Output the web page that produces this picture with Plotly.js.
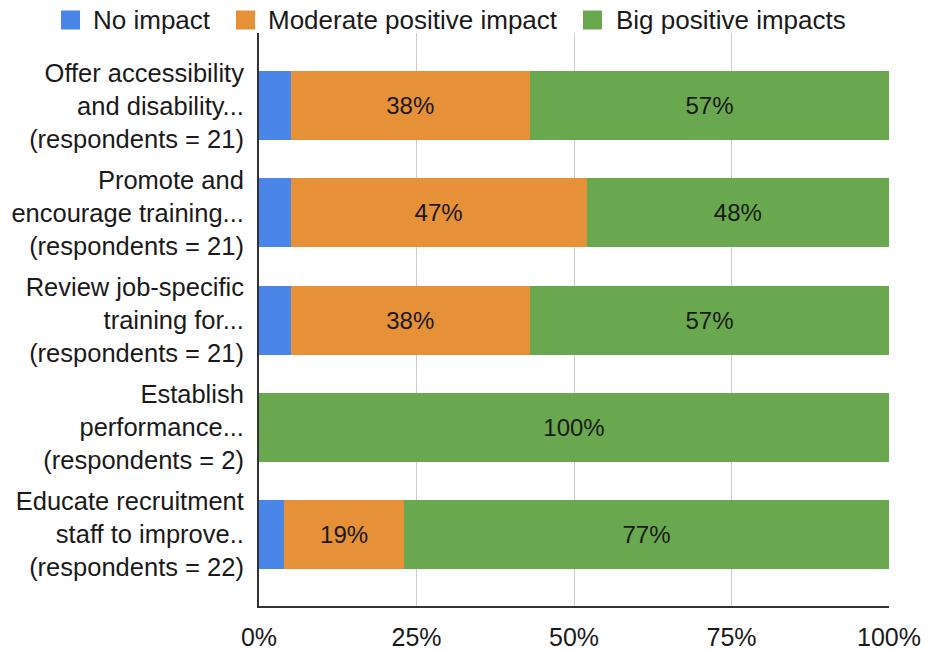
<!DOCTYPE html>
<html>
<head>
<meta charset="utf-8">
<script src="https://cdn.plot.ly/plotly-3.0.1.min.js"></script>
<style>html,body{margin:0;padding:0;background:#fff;}#chart{width:928px;height:651px;}</style>
</head>
<body>
<div id="chart"></div>
<script>
const categories = [
  "Offer accessibility<br>and disability...<br>(respondents = 21)",
  "Promote and<br>encourage training...<br>(respondents = 21)",
  "Review job-specific<br>training for...<br>(respondents = 21)",
  "Establish<br>performance...<br>(respondents = 2)",
  "Educate recruitment<br>staff to improve..<br>(respondents = 22)"
];
const noImpact = [5, 5, 5, 0, 4];
const moderate = [38, 47, 38, 0, 19];
const big = [57, 48, 57, 100, 77];
const seriesNames = ["No impact", "Moderate positive impact", "Big positive impacts"];
const colors = ["#4a86e8", "#e69138", "#6aa84f"];
const showLabel = [false, true, true];
const tickVals = [0, 25, 50, 75, 100];
const tickText = ["0%", "25%", "50%", "75%", "100%"];

const W = 928, H = 651;
const M = {l: 259, r: 39, t: 33, b: 45};
const plotW = W - M.l - M.r, plotH = H - M.t - M.b;
const px2x = p => (p - M.l) / plotW;
const px2y = p => (H - M.b - p) / plotH;

const font = "'Liberation Sans', Arial, sans-serif";
const allVals = [noImpact, moderate, big];
const traces = allVals.map((vals, i) => ({
  type: "bar",
  orientation: "h",
  y: categories,
  x: vals,
  name: seriesNames[i],
  marker: {color: colors[i], line: {width: 0}},
  text: vals.map(v => (showLabel[i] && v > 0) ? v + "%" : ""),
  textposition: "inside",
  insidetextanchor: "middle",
  constraintext: "none",
  textfont: {family: font, size: 24, color: "#1a1a1a"},
  showlegend: false,
  hoverinfo: "x+name"
}));

// custom legend (square swatches + labels) placed at the top
const legendSquareLeft = [61, 236, 583];
const legendTextLeft = [93, 268, 616];
const legendCenterY = 20, sq = 19;
const shapes = seriesNames.map((n, i) => ({
  type: "rect", xref: "paper", yref: "paper", layer: "above",
  x0: px2x(legendSquareLeft[i]), x1: px2x(legendSquareLeft[i] + sq),
  y0: px2y(legendCenterY + sq / 2), y1: px2y(legendCenterY - sq / 2),
  fillcolor: colors[i], line: {width: 0}
}));
const annotations = seriesNames.map((n, i) => ({
  text: n, xref: "paper", yref: "paper", showarrow: false,
  x: px2x(legendTextLeft[i] - 2), xanchor: "left",
  y: px2y(legendCenterY), yanchor: "middle",
  font: {family: font, size: 26, color: "#1a1a1a"}
}));

const layout = {
  width: W, height: H,
  barmode: "stack",
  bargap: 0.356,
  margin: Object.assign({autoexpand: false}, M),
  paper_bgcolor: "#fff", plot_bgcolor: "#fff",
  font: {family: font, size: 25, color: "#1a1a1a"},
  showlegend: false,
  shapes: shapes,
  annotations: annotations,
  xaxis: {range: [0, 100], tickvals: tickVals, ticktext: tickText,
          showgrid: true, gridcolor: "#cccccc", gridwidth: 1, zeroline: false,
          showline: true, linecolor: "#333", linewidth: 2, ticks: "", ticklabelstandoff: 8,
          tickfont: {family: font, size: 25, color: "#1a1a1a"}, fixedrange: true},
  yaxis: {range: [4.67, -0.68], showline: true, linecolor: "#333", linewidth: 2, ticks: "",
          showgrid: false, ticklabelstandoff: 8, tickfont: {family: font, size: 25.5, color: "#1a1a1a"}, fixedrange: true}
};
Plotly.newPlot("chart", traces, layout, {displayModeBar: false, staticPlot: true});
</script>
</body>
</html>
